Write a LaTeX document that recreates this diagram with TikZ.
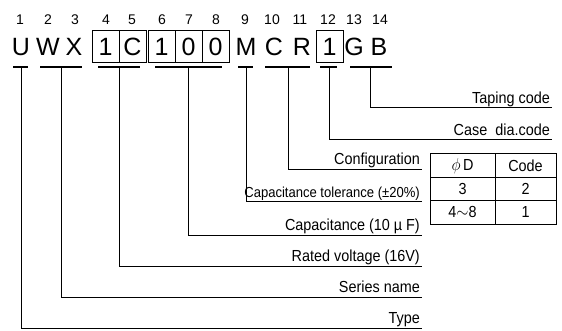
\documentclass[tikz,border=0pt]{standalone}
\usepackage{fontspec}
\setmainfont{Liberation Sans}
\newcommand{\nar}[1]{\scalebox{0.9}[1]{#1}}
\begin{document}
\begin{tikzpicture}[x=1pt,y=-1pt,
  num/.style={font=\fontsize{14}{14}\selectfont, inner sep=0pt},
  big/.style={font=\fontsize{25}{25}\selectfont, inner sep=0pt},
  boxed/.style={big, draw, line width=1pt, minimum width=27pt, minimum height=32pt},
  lab/.style={font=\fontsize{16}{16}\selectfont, anchor=base east, inner sep=0pt},
  smalllab/.style={font=\fontsize{14.5}{14.5}\selectfont, anchor=base east, inner sep=0pt},
  ul/.style={line width=2pt},
  conn/.style={line width=1pt},
  cell/.style={draw, line width=1pt, font=\fontsize{16}{16}\selectfont, inner sep=0pt}]
\useasboundingbox (0,0) rectangle (562,331);
% position numbers
\foreach \n/\x in {1/20,2/48,3/75,4/106,5/132,6/162,7/189,8/216,9/245,10/272,11/300,12/328,13/354,14/380}
  \node[num] (n\n) at (\x,20) {\n};
% code letters
\node[big] (c1) at (21,47) {U};
\node[big] (c2) at (48,47) {W};
\node[big] (c3) at (74,47) {X};
\node[boxed] (c4) at (105.5,47) {1};
\node[boxed] (c5) at (132.5,47) {C};
\node[boxed] (c6) at (161.5,47) {1};
\node[boxed] (c7) at (188.5,47) {0};
\node[boxed] (c8) at (215.5,47) {0};
\node[big] (c9) at (246,47) {M};
\node[big] (c10) at (274,47) {C};
\node[big] (c11) at (302,47) {R};
\node[boxed] (c12) at (329.5,47) {1};
\node[big] (c13) at (354,47) {G};
\node[big] (c14) at (379,47) {B};
% underlines
\coordinate (uUa) at (13,67);  \coordinate (uUb) at (28,67);  \coordinate (uU) at (21,67);
\coordinate (uWa) at (40,67);  \coordinate (uWb) at (82,67);  \coordinate (uW) at (61,67);
\coordinate (uVa) at (98,67);  \coordinate (uVb) at (140,67); \coordinate (uV) at (119,67);
\coordinate (uCa) at (155,67); \coordinate (uCb) at (222,67); \coordinate (uC) at (188,67);
\coordinate (uMa) at (238,67); \coordinate (uMb) at (253,67); \coordinate (uM) at (246,67);
\coordinate (uRa) at (265,67); \coordinate (uRb) at (310,67); \coordinate (uR) at (288,67);
\coordinate (uDa) at (320,67); \coordinate (uDb) at (337,67); \coordinate (uD) at (329,67);
\coordinate (uGa) at (350,67); \coordinate (uGb) at (392,67); \coordinate (uG) at (370,67);
\foreach \k in {U,W,V,C,M,R,D,G} \draw[ul] (u\k a) -- (u\k b);
% label line ends
\coordinate (eTap) at (552,108);
\coordinate (eCase) at (552,140);
\coordinate (eConf) at (422,170);
\coordinate (eTol) at (422,202);
\coordinate (eCap) at (422,235);
\coordinate (eVolt) at (422,266);
\coordinate (eSer) at (422,297);
\coordinate (eType) at (422,328);
% labels
\node[lab] (lTap) at (550,104) {\nar{Taping code}};
\node[lab] (lCase) at (550,136) {\nar{Case\ \ dia.code}};
\node[lab] (lConf) at (420,165) {\nar{Configuration}};
\node[smalllab] (lTol) at (420,197) {\nar{Capacitance tolerance (±20\%)}};
\node[lab] (lCap) at (420,230) {\nar{Capacitance (10 µ F)}};
\node[lab] (lVolt) at (420,261) {\nar{Rated voltage (16V)}};
\node[lab] (lSer) at (420,292) {\nar{Series name}};
\node[lab] (lType) at (420,323) {\nar{Type}};
% connectors
\draw[conn] (uG) |- (eTap);
\draw[conn] (uD) |- (eCase);
\draw[conn] (uR) |- (eConf);
\draw[conn] (uM) |- (eTol);
\draw[conn] (uC) |- (eCap);
\draw[conn] (uV) |- (eVolt);
\draw[conn] (uW) |- (eSer);
\draw[conn] (uU) |- (eType);
% table
\node[cell, minimum width=65pt, minimum height=23.4pt] (t11) at (462.5,165.7) {\nar{$\phi$\,D}};
\node[cell, minimum width=61pt, minimum height=23.4pt] (t12) at (525.5,165.7) {\nar{Code}};
\node[cell, minimum width=65pt, minimum height=23.4pt] (t21) at (462.5,189) {\nar{3}};
\node[cell, minimum width=61pt, minimum height=23.4pt] (t22) at (525.5,189) {\nar{2}};
\node[cell, minimum width=65pt, minimum height=23.4pt] (t31) at (462.5,212.3) {\nar{4$\sim$8}};
\node[cell, minimum width=61pt, minimum height=23.4pt] (t32) at (525.5,212.3) {\nar{1}};
\end{tikzpicture}
\end{document}
